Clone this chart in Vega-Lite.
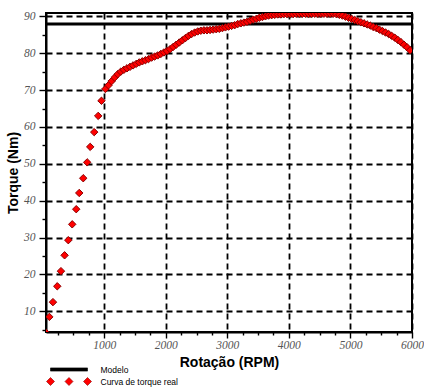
{
  "$schema": "https://vega.github.io/schema/vega-lite/v6.json",
  "width": 366,
  "height": 319,
  "autosize": {"type": "none"},
  "padding": {"left": 46, "top": 13, "right": 12, "bottom": 55},
  "background": "white",
  "config": {
    "view": {"stroke": "black", "strokeWidth": 2},
    "axis": {
      "domainColor": "black",
      "domainWidth": 2,
      "tickColor": "black",
      "tickWidth": 1.4,
      "gridColor": "black",
      "gridWidth": 1.8,
      "gridDash": [6, 4],
      "labelFont": "Liberation Serif",
      "labelFontStyle": "italic",
      "labelFontSize": 11.5,
      "labelColor": "#555555",
      "titleFont": "Liberation Sans",
      "titleFontWeight": "bold",
      "titleFontSize": 14,
      "titleColor": "black"
    }
  },
  "layer": [
    {
      "data": {"values": [{"rpm": 55, "torque": 87.9}, {"rpm": 6000, "torque": 87.9}]},
      "mark": {"type": "line", "color": "black", "strokeWidth": 3},
      "encoding": {
        "x": {
          "field": "rpm", "type": "quantitative",
          "scale": {"domain": [55, 6000], "nice": false, "zero": false},
          "axis": {
            "title": "Rotação (RPM)",
            "values": [250, 500, 750, 1000, 1250, 1500, 1750, 2000, 2250, 2500, 2750, 3000, 3250, 3500, 3750, 4000, 4250, 4500, 4750, 5000, 5250, 5500, 5750, 6000],
            "tickCount": 100,
            "format": "d",
            "labelExpr": "datum.value % 1000 == 0 ? datum.label : ''",
            "tickSize": {"condition": {"test": "datum.value % 1000 == 0", "value": 6}, "value": 3},
            "gridOpacity": {"condition": {"test": "datum.value % 1000 == 0", "value": 1}, "value": 0},
            "labelPadding": 1,
            "labelFlush": false,
            "labelOverlap": false,
            "titlePadding": 5
          }
        },
        "y": {
          "field": "torque", "type": "quantitative",
          "scale": {"domain": [4.4, 90.9], "nice": false, "zero": false},
          "axis": {
            "title": "Torque (Nm)",
            "values": [5, 10, 15, 20, 25, 30, 35, 40, 45, 50, 55, 60, 65, 70, 75, 80, 85, 90],
            "tickCount": 100,
            "labelExpr": "datum.value % 10 == 0 ? datum.label : ''",
            "tickSize": {"condition": {"test": "datum.value % 10 == 0", "value": 7}, "value": 4},
            "gridOpacity": {"condition": {"test": "datum.value % 10 == 0", "value": 1}, "value": 0},
            "labelPadding": 4,
            "labelFlush": false,
            "labelOverlap": false,
            "titlePadding": 3
          }
        }
      }
    },
    {
      "data": {"values": [
        {"rpm": 50, "torque": 4.3},
        {"rpm": 109, "torque": 8.5},
        {"rpm": 168, "torque": 12.5},
        {"rpm": 238, "torque": 16.8},
        {"rpm": 298, "torque": 20.9},
        {"rpm": 357, "torque": 25.2},
        {"rpm": 417, "torque": 29.3},
        {"rpm": 481, "torque": 33.6},
        {"rpm": 546, "torque": 37.7},
        {"rpm": 595, "torque": 42.1},
        {"rpm": 660, "torque": 46.1},
        {"rpm": 724, "torque": 50.4},
        {"rpm": 773, "torque": 54.6},
        {"rpm": 838, "torque": 58.6},
        {"rpm": 903, "torque": 63.0},
        {"rpm": 956, "torque": 67.1},
        {"rpm": 1020, "torque": 70.3},
        {"rpm": 1070, "torque": 71.3},
        {"rpm": 1120, "torque": 72.4},
        {"rpm": 1170, "torque": 73.4},
        {"rpm": 1220, "torque": 74.3},
        {"rpm": 1270, "torque": 75.0},
        {"rpm": 1320, "torque": 75.5},
        {"rpm": 1370, "torque": 75.9},
        {"rpm": 1420, "torque": 76.3},
        {"rpm": 1470, "torque": 76.7},
        {"rpm": 1520, "torque": 77.1},
        {"rpm": 1570, "torque": 77.5},
        {"rpm": 1620, "torque": 77.8},
        {"rpm": 1670, "torque": 78.1},
        {"rpm": 1720, "torque": 78.4},
        {"rpm": 1770, "torque": 78.8},
        {"rpm": 1820, "torque": 79.1},
        {"rpm": 1870, "torque": 79.4},
        {"rpm": 1920, "torque": 79.8},
        {"rpm": 1970, "torque": 80.2},
        {"rpm": 2020, "torque": 80.6},
        {"rpm": 2070, "torque": 81.1},
        {"rpm": 2120, "torque": 81.7},
        {"rpm": 2170, "torque": 82.3},
        {"rpm": 2220, "torque": 82.9},
        {"rpm": 2270, "torque": 83.5},
        {"rpm": 2320, "torque": 84.1},
        {"rpm": 2370, "torque": 84.7},
        {"rpm": 2420, "torque": 85.2},
        {"rpm": 2470, "torque": 85.6},
        {"rpm": 2520, "torque": 85.9},
        {"rpm": 2570, "torque": 86.1},
        {"rpm": 2620, "torque": 86.2},
        {"rpm": 2670, "torque": 86.2},
        {"rpm": 2720, "torque": 86.3},
        {"rpm": 2770, "torque": 86.4},
        {"rpm": 2820, "torque": 86.5},
        {"rpm": 2870, "torque": 86.6},
        {"rpm": 2920, "torque": 86.8},
        {"rpm": 2970, "torque": 87.0},
        {"rpm": 3020, "torque": 87.2},
        {"rpm": 3070, "torque": 87.4},
        {"rpm": 3120, "torque": 87.6},
        {"rpm": 3170, "torque": 87.9},
        {"rpm": 3220, "torque": 88.1},
        {"rpm": 3270, "torque": 88.3},
        {"rpm": 3320, "torque": 88.5},
        {"rpm": 3370, "torque": 88.8},
        {"rpm": 3420, "torque": 89.1},
        {"rpm": 3470, "torque": 89.3},
        {"rpm": 3520, "torque": 89.6},
        {"rpm": 3570, "torque": 89.8},
        {"rpm": 3620, "torque": 90.0},
        {"rpm": 3670, "torque": 90.2},
        {"rpm": 3720, "torque": 90.3},
        {"rpm": 3770, "torque": 90.4},
        {"rpm": 3820, "torque": 90.5},
        {"rpm": 3870, "torque": 90.5},
        {"rpm": 3920, "torque": 90.6},
        {"rpm": 3970, "torque": 90.6},
        {"rpm": 4020, "torque": 90.6},
        {"rpm": 4070, "torque": 90.6},
        {"rpm": 4120, "torque": 90.7},
        {"rpm": 4170, "torque": 90.7},
        {"rpm": 4220, "torque": 90.7},
        {"rpm": 4270, "torque": 90.7},
        {"rpm": 4320, "torque": 90.7},
        {"rpm": 4370, "torque": 90.7},
        {"rpm": 4420, "torque": 90.7},
        {"rpm": 4470, "torque": 90.7},
        {"rpm": 4520, "torque": 90.7},
        {"rpm": 4570, "torque": 90.7},
        {"rpm": 4620, "torque": 90.7},
        {"rpm": 4670, "torque": 90.7},
        {"rpm": 4720, "torque": 90.7},
        {"rpm": 4770, "torque": 90.6},
        {"rpm": 4820, "torque": 90.4},
        {"rpm": 4870, "torque": 90.2},
        {"rpm": 4920, "torque": 89.9},
        {"rpm": 4970, "torque": 89.6},
        {"rpm": 5020, "torque": 89.3},
        {"rpm": 5070, "torque": 89.0},
        {"rpm": 5120, "torque": 88.7},
        {"rpm": 5170, "torque": 88.4},
        {"rpm": 5220, "torque": 88.1},
        {"rpm": 5270, "torque": 87.8},
        {"rpm": 5320, "torque": 87.5},
        {"rpm": 5370, "torque": 87.1},
        {"rpm": 5420, "torque": 86.8},
        {"rpm": 5470, "torque": 86.4},
        {"rpm": 5520, "torque": 86.0},
        {"rpm": 5570, "torque": 85.6},
        {"rpm": 5620, "torque": 85.2},
        {"rpm": 5670, "torque": 84.7},
        {"rpm": 5720, "torque": 84.2},
        {"rpm": 5770, "torque": 83.6},
        {"rpm": 5820, "torque": 83.0},
        {"rpm": 5870, "torque": 82.3},
        {"rpm": 5920, "torque": 81.6},
        {"rpm": 5970, "torque": 80.8}
      ]},
      "mark": {"type": "point", "shape": "diamond", "filled": true, "clip": true, "size": 55, "strokeWidth": 1, "opacity": 1, "fill": "#ff0000", "stroke": "#8b0000"},
      "encoding": {
        "x": {"field": "rpm", "type": "quantitative"},
        "y": {"field": "torque", "type": "quantitative"}
      }
    },
    {
      "data": {"values": []},
      "mark": {"type": "point", "filled": true, "opacity": 1},
      "encoding": {
        "x": {"field": "rpm", "type": "quantitative"},
        "y": {"field": "torque", "type": "quantitative"},
        "color": {
          "field": "serie", "type": "nominal",
          "scale": {"domain": ["Modelo", "Curva de torque real"], "range": ["black", "#ff0000"]},
          "legend": {
            "title": null,
            "orient": "none",
            "legendX": 18.5,
            "legendY": 352,
            "symbolSize": 64,
            "symbolStrokeWidth": 0.6,
            "symbolOpacity": 1,
            "labelOffset": 27,
            "labelFont": "Liberation Sans",
            "labelFontSize": 8.5,
            "labelColor": "black",
            "rowPadding": 2,
            "padding": 0
          }
        },
        "stroke": {
          "field": "serie", "type": "nominal",
          "scale": {"domain": ["Modelo", "Curva de torque real"], "range": ["black", "#8b0000"]},
          "legend": null
        },
        "shape": {
          "field": "serie", "type": "nominal",
          "scale": {"domain": ["Modelo", "Curva de torque real"], "range": ["M-4.625,-0.4H4.625V0.4H-4.625Z", "M-5.625,0L-4.625,-1L-3.625,0L-4.625,1Z M-1,0L0,-1L1,0L0,1Z M3.625,0L4.625,-1L5.625,0L4.625,1Z"]},
          "legend": null
        }
      }
    }
  ]
}
